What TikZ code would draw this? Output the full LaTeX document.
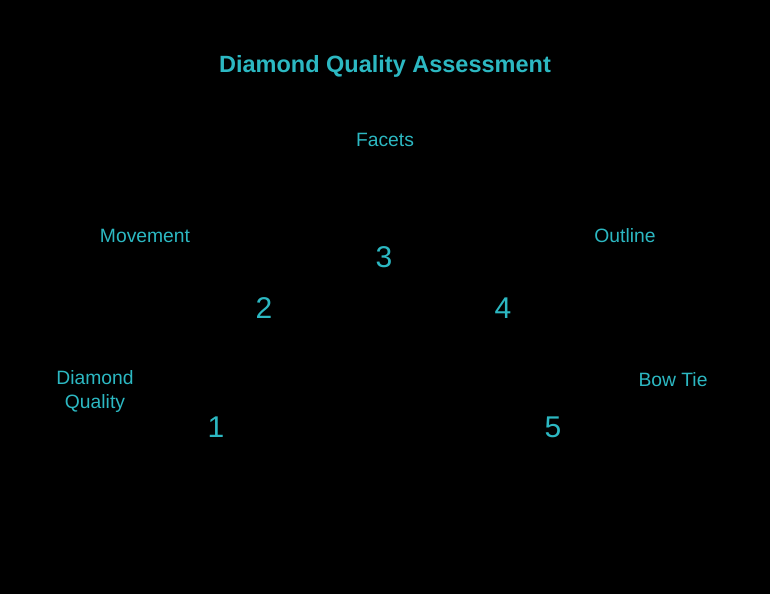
\documentclass[tikz,border=0pt]{standalone}
\usepackage{fontspec}
\setmainfont{Liberation Sans}
\definecolor{teal1}{RGB}{44,184,194}
\tikzset{
  lbl/.style={text=teal1, font=\fontsize{19.3bp}{24bp}\selectfont, align=center, inner sep=0pt},
  num/.style={text=teal1, font=\fontsize{30bp}{34bp}\selectfont, inner sep=0pt},
  ttl/.style={text=teal1, font=\bfseries\fontsize{23.5bp}{28bp}\selectfont, inner sep=0pt}
}
\begin{document}
\begin{tikzpicture}[x=1bp,y=-1bp]
\fill[black] (0,0) rectangle (770,594);
\useasboundingbox (0,0) rectangle (770,594);
\node[ttl] (title) at (385,66) {Diamond Quality Assessment};
\node[lbl] (facets) at (385,139.5) {Facets};
\node[lbl] (movement) at (145,235.5) {Movement};
\node[lbl] (outline) at (625,235.5) {Outline};
\node[lbl] (dq) at (95,392) {Diamond\\Quality};
\node[lbl] (bowtie) at (673,379.5) {Bow Tie};
\node[num] (n1) at (216,427.5) {1};
\node[num] (n2) at (264,308.5) {2};
\node[num] (n3) at (384,257.5) {3};
\node[num] (n4) at (503,308.5) {4};
\node[num] (n5) at (553,427.5) {5};
\end{tikzpicture}
\end{document}
